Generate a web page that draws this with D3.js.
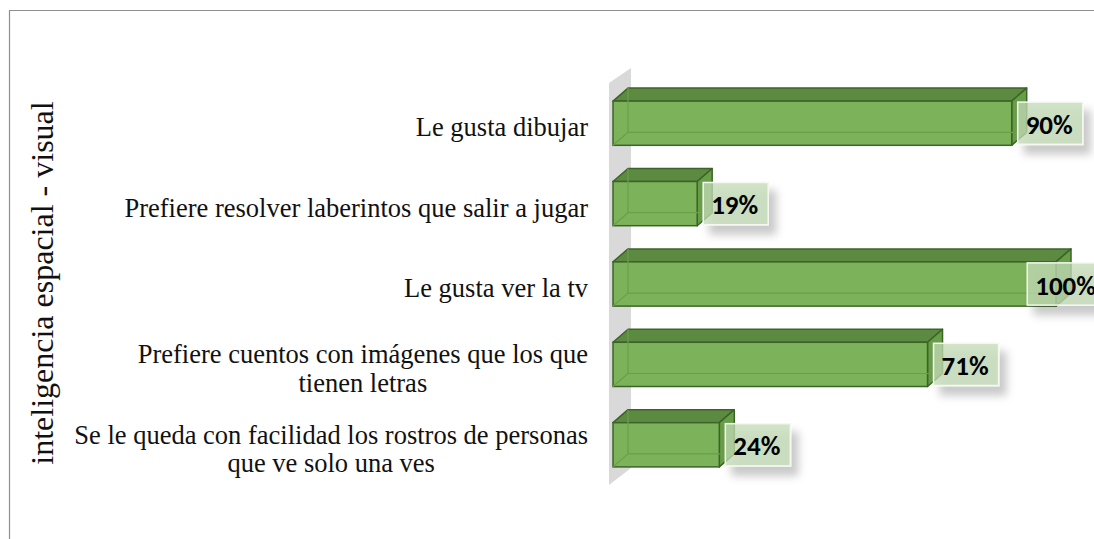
<!DOCTYPE html>
<html>
<head>
<meta charset="utf-8">
<script src="https://cdn.jsdelivr.net/npm/d3@7"></script>
<style>
  body { margin: 0; background: #fff; }
  svg { display: block; }
</style>
</head>
<body>
<div id="chart"></div>
<script>
// data
var categories = [
  ["Le gusta dibujar"],
  ["Prefiere resolver laberintos que salir a jugar"],
  ["Le gusta ver la tv"],
  ["Prefiere cuentos con imágenes que los que", "tienen letras"],
  ["Se le queda con facilidad los rostros de personas", "que ve solo una ves"]
];
var values = [0.90, 0.19, 1.00, 0.71, 0.24];
var valueLabels = ["90%", "19%", "100%", "71%", "24%"];
var axisTitle = "inteligencia espacial - visual";

var width = 1094, height = 539;
var depthX = 15, depthY = -13;   // bar depth offset
var wallDX = 22, wallDY = -15;   // side wall depth offset
var serif = "'Liberation Serif', 'Times New Roman', serif";

var svg = d3.select("#chart")
  .append("svg")
    .attr("width", width)
    .attr("height", height);

var defs = svg.append("defs");
var f = defs.append("filter").attr("id", "shadow")
  .attr("x", "-30%").attr("y", "-30%").attr("width", "170%").attr("height", "180%");
f.append("feDropShadow")
  .attr("dx", 7).attr("dy", 9).attr("stdDeviation", 4)
  .attr("flood-color", "#000").attr("flood-opacity", 0.28);

// chart frame (cropped at right/bottom)
svg.append("path")
  .attr("d", "M9.5,539 L9.5,10.5 L1094,10.5")
  .attr("fill", "none").attr("stroke", "#8f8f8f").attr("stroke-width", 1.2);

var idx = d3.range(categories.length);

var x = d3.scaleLinear().domain([0, 1]).range([613, 1056]);
var y = d3.scaleBand().domain(idx).range([83, 485])
  .paddingInner(0.45).paddingOuter(0.225);

// side wall
var wx = 609, wTop = 83, wBot = 485;
svg.append("polygon")
  .attr("points", [[wx, wTop], [wx + wallDX, wTop + wallDY], [wx + wallDX, wBot + wallDY - 2], [wx, wBot]].join(" "))
  .attr("fill", "#d9d9d9");

// bars
var bars = svg.selectAll("g.bar").data(idx).enter().append("g").attr("class", "bar");

bars.each(function(i) {
  var g = d3.select(this);
  var x0 = x(0), x1 = x(values[i]);
  var y0 = y(i), y1 = y(i) + y.bandwidth();
  // top face
  g.append("polygon")
    .attr("points", [[x0, y0], [x0 + depthX, y0 + depthY], [x1 + depthX, y0 + depthY], [x1, y0]].join(" "))
    .attr("fill", "#5c8a40").attr("stroke", "#3d6428").attr("stroke-width", 1.5).attr("stroke-linejoin", "round");
  // side face
  g.append("polygon")
    .attr("points", [[x1, y0], [x1 + depthX, y0 + depthY], [x1 + depthX, y1 + depthY], [x1, y1]].join(" "))
    .attr("fill", "#689d48").attr("stroke", "#3d6428").attr("stroke-width", 1.5).attr("stroke-linejoin", "round");
  // front face
  g.append("rect")
    .attr("x", x0).attr("y", y0)
    .attr("width", x1 - x0).attr("height", y1 - y0)
    .attr("fill", "#7cb25a").attr("stroke", "#3d6428").attr("stroke-width", 1.5);
  // hidden back edges seen through
  g.append("path")
    .attr("d", "M" + (x0 + depthX) + "," + (y0 + depthY) + " L" + (x0 + depthX) + "," + (y1 + depthY) +
               " L" + (x1 + depthX) + "," + (y1 + depthY) +
               " M" + x0 + "," + y1 + " L" + (x0 + depthX) + "," + (y1 + depthY))
    .attr("fill", "none").attr("stroke", "#6a9f48").attr("stroke-width", 1.2);
});

// value labels
var labels = svg.selectAll("g.vlabel").data(idx).enter().append("g").attr("class", "vlabel");
labels.each(function(i) {
  var g = d3.select(this);
  var t = g.append("text")
    .attr("font-family", "Carlito, Calibri, Lato, sans-serif")
    .attr("font-weight", "bold")
    .attr("font-size", 27)
    .attr("fill", "#000")
    .attr("dominant-baseline", "central")
    .text(valueLabels[i]);
  var w = t.node().getComputedTextLength() + 18;
  var bx = Math.min(x(values[i]) + 6, 1106 - w);
  var by = y(i) + 1, bh = y.bandwidth() - 2;
  g.insert("rect", "text")
    .attr("x", bx).attr("y", by).attr("width", w).attr("height", bh)
    .attr("fill", "#c3dbb5").attr("fill-opacity", 0.75)
    .attr("stroke", "#f4f8f1").attr("stroke-width", 1.5)
    .attr("filter", "url(#shadow)");
  t.attr("x", bx + 8).attr("y", by + bh / 2 + 1);
});

// category labels (right aligned block, lines centered)
var catX = 588, fontSize = 26.5, lineH = 28.5;
var cats = svg.selectAll("g.cat").data(idx).enter().append("g").attr("class", "cat");
cats.each(function(i) {
  var g = d3.select(this);
  var lines = categories[i];
  var texts = lines.map(function(s, k) {
    return g.append("text")
      .attr("font-family", serif)
      .attr("font-size", fontSize)
      .attr("fill", "#111")
      .attr("text-anchor", "middle")
      .attr("dominant-baseline", "central")
      .text(s);
  });
  var maxW = d3.max(texts, function(t) { return t.node().getComputedTextLength(); });
  var cy = y(i) + y.bandwidth() / 2 + 4;
  texts.forEach(function(t, k) {
    t.attr("x", catX - maxW / 2)
     .attr("y", cy + (k - (lines.length - 1) / 2) * lineH);
  });
});

// axis title
svg.append("text")
  .attr("transform", "translate(42," + 283 + ") rotate(-90)")
  .attr("font-family", serif)
  .attr("font-size", 32)
  .attr("fill", "#111")
  .attr("text-anchor", "middle")
  .attr("dominant-baseline", "central")
  .text(axisTitle);
</script>
</body>
</html>
